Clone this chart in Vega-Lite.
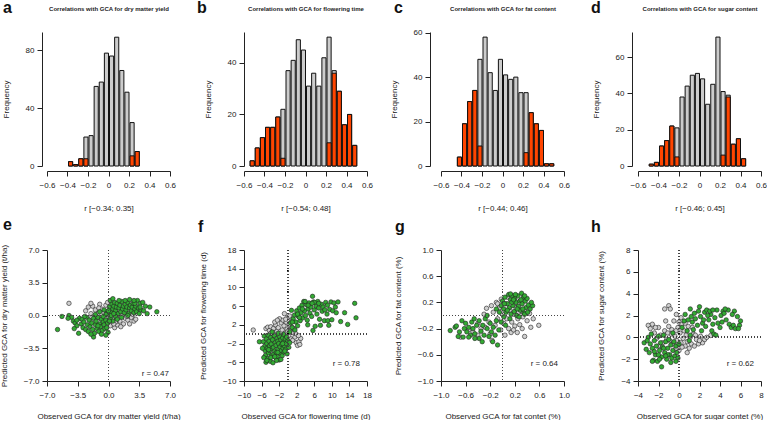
{
  "$schema": "https://vega.github.io/schema/vega-lite/v6.json",
  "padding": {"left": 0, "top": 0, "right": 0, "bottom": 0},
  "config": {
    "font": "Liberation Sans",
    "view": {"stroke": null},
    "axis": {"grid": false, "labelFontSize": 8, "titleFontSize": 8, "titleFontWeight": "normal", "labelColor": "#222", "titleColor": "#222", "domainColor": "#222", "tickColor": "#222", "tickSize": 5, "labelPadding": 5, "labelFont": "Liberation Sans", "titleFont": "Liberation Sans", "labelFlush": false, "labelOverlap": false, "titlePadding": 13},
    "axisY": {"titlePadding": 15, "labelPadding": 3},
    "title": {"anchor": "start", "frame": "group", "fontSize": 16, "fontWeight": "bold", "color": "#111", "font": "Liberation Sans"}
  },
  "datasets": {
    "ha": [
      {"b": -0.40, "e": -0.35, "n": 3, "s": 3},
      {"b": -0.35, "e": -0.30, "n": 1, "s": 1},
      {"b": -0.30, "e": -0.25, "n": 5, "s": 5},
      {"b": -0.25, "e": -0.20, "n": 20, "s": 5},
      {"b": -0.20, "e": -0.15, "n": 21, "s": 0},
      {"b": -0.15, "e": -0.10, "n": 55, "s": 0},
      {"b": -0.10, "e": -0.05, "n": 58, "s": 0},
      {"b": -0.05, "e": 0.00, "n": 78, "s": 0},
      {"b": 0.00, "e": 0.05, "n": 76, "s": 0},
      {"b": 0.05, "e": 0.10, "n": 89, "s": 0},
      {"b": 0.10, "e": 0.15, "n": 66, "s": 0},
      {"b": 0.15, "e": 0.20, "n": 51, "s": 0},
      {"b": 0.20, "e": 0.25, "n": 30, "s": 7},
      {"b": 0.25, "e": 0.30, "n": 10, "s": 10}
    ],
    "hb": [
      {"b": -0.55, "e": -0.50, "n": 2, "s": 2},
      {"b": -0.50, "e": -0.45, "n": 7, "s": 7},
      {"b": -0.45, "e": -0.40, "n": 11, "s": 11},
      {"b": -0.40, "e": -0.35, "n": 15, "s": 15},
      {"b": -0.35, "e": -0.30, "n": 15, "s": 15},
      {"b": -0.30, "e": -0.25, "n": 19, "s": 19},
      {"b": -0.25, "e": -0.20, "n": 22, "s": 3},
      {"b": -0.20, "e": -0.15, "n": 37, "s": 0},
      {"b": -0.15, "e": -0.10, "n": 41, "s": 0},
      {"b": -0.10, "e": -0.05, "n": 49, "s": 0},
      {"b": -0.05, "e": 0.00, "n": 45, "s": 0},
      {"b": 0.00, "e": 0.05, "n": 31, "s": 0},
      {"b": 0.05, "e": 0.10, "n": 36, "s": 0},
      {"b": 0.10, "e": 0.15, "n": 31, "s": 0},
      {"b": 0.15, "e": 0.20, "n": 42, "s": 0},
      {"b": 0.20, "e": 0.25, "n": 50, "s": 9},
      {"b": 0.25, "e": 0.30, "n": 37, "s": 36},
      {"b": 0.30, "e": 0.35, "n": 29, "s": 29},
      {"b": 0.35, "e": 0.40, "n": 16, "s": 16},
      {"b": 0.40, "e": 0.45, "n": 20, "s": 20},
      {"b": 0.45, "e": 0.50, "n": 8, "s": 8}
    ],
    "hc": [
      {"b": -0.45, "e": -0.40, "n": 4, "s": 4},
      {"b": -0.40, "e": -0.35, "n": 19, "s": 19},
      {"b": -0.35, "e": -0.30, "n": 29, "s": 29},
      {"b": -0.30, "e": -0.25, "n": 34, "s": 34},
      {"b": -0.25, "e": -0.20, "n": 48, "s": 9},
      {"b": -0.20, "e": -0.15, "n": 58, "s": 0},
      {"b": -0.15, "e": -0.10, "n": 42, "s": 0},
      {"b": -0.10, "e": -0.05, "n": 34, "s": 0},
      {"b": -0.05, "e": 0.00, "n": 48, "s": 0},
      {"b": 0.00, "e": 0.05, "n": 41, "s": 0},
      {"b": 0.05, "e": 0.10, "n": 39, "s": 0},
      {"b": 0.10, "e": 0.15, "n": 40, "s": 0},
      {"b": 0.15, "e": 0.20, "n": 33, "s": 0},
      {"b": 0.20, "e": 0.25, "n": 33, "s": 6},
      {"b": 0.25, "e": 0.30, "n": 24, "s": 24},
      {"b": 0.30, "e": 0.35, "n": 19, "s": 19},
      {"b": 0.35, "e": 0.40, "n": 16, "s": 16},
      {"b": 0.40, "e": 0.45, "n": 1, "s": 1},
      {"b": 0.45, "e": 0.50, "n": 1, "s": 1}
    ],
    "hd": [
      {"b": -0.50, "e": -0.45, "n": 1, "s": 1},
      {"b": -0.45, "e": -0.40, "n": 2, "s": 2},
      {"b": -0.40, "e": -0.35, "n": 11, "s": 11},
      {"b": -0.35, "e": -0.30, "n": 14, "s": 14},
      {"b": -0.30, "e": -0.25, "n": 22, "s": 22},
      {"b": -0.25, "e": -0.20, "n": 21, "s": 5},
      {"b": -0.20, "e": -0.15, "n": 38, "s": 0},
      {"b": -0.15, "e": -0.10, "n": 44, "s": 0},
      {"b": -0.10, "e": -0.05, "n": 50, "s": 0},
      {"b": -0.05, "e": 0.00, "n": 51, "s": 0},
      {"b": 0.00, "e": 0.05, "n": 48, "s": 0},
      {"b": 0.05, "e": 0.10, "n": 34, "s": 0},
      {"b": 0.10, "e": 0.15, "n": 45, "s": 0},
      {"b": 0.15, "e": 0.20, "n": 71, "s": 0},
      {"b": 0.20, "e": 0.25, "n": 41, "s": 6},
      {"b": 0.25, "e": 0.30, "n": 39, "s": 38},
      {"b": 0.30, "e": 0.35, "n": 12, "s": 12},
      {"b": 0.35, "e": 0.40, "n": 15, "s": 15},
      {"b": 0.40, "e": 0.45, "n": 4, "s": 4}
    ],
    "se": [
      {"x": -4.5, "y": 1.3, "g": "n"}, {"x": -2.6, "y": 0.5, "g": "n"}, {"x": -2.3, "y": 0.9, "g": "n"}, {"x": -2.0, "y": 0.2, "g": "n"}, {"x": -1.9, "y": -0.2, "g": "n"}, {"x": -1.8, "y": 1.0, "g": "n"}, {"x": -1.5, "y": 0.6, "g": "n"}, {"x": -1.2, "y": 0.2, "g": "n"}, {"x": -1.0, "y": 1.2, "g": "n"}, {"x": -0.9, "y": -0.3, "g": "n"}, {"x": -0.8, "y": 0.7, "g": "n"}, {"x": -0.5, "y": 0.3, "g": "n"}, {"x": -0.3, "y": 1.1, "g": "n"}, {"x": -0.1, "y": 1.4, "g": "n"}, {"x": 0.0, "y": -0.2, "g": "n"}, {"x": 0.1, "y": 0.1, "g": "n"}, {"x": 0.3, "y": -0.8, "g": "n"}, {"x": 0.5, "y": -0.3, "g": "n"}, {"x": 0.6, "y": 0.3, "g": "n"}, {"x": 0.7, "y": -1.3, "g": "n"}, {"x": 0.9, "y": -0.4, "g": "n"}, {"x": 1.0, "y": -1.0, "g": "n"}, {"x": 1.2, "y": 0.5, "g": "n"}, {"x": 1.3, "y": -0.6, "g": "n"}, {"x": 1.5, "y": 0.0, "g": "n"}, {"x": 1.7, "y": -0.9, "g": "n"}, {"x": 1.9, "y": -0.3, "g": "n"}, {"x": 2.0, "y": 0.3, "g": "n"}, {"x": 2.2, "y": -0.5, "g": "n"}, {"x": 2.6, "y": -0.2, "g": "n"}, {"x": 2.9, "y": -0.6, "g": "n"}, {"x": 3.1, "y": -0.4, "g": "n"}, {"x": 2.6, "y": 0.6, "g": "n"}, {"x": 0.4, "y": 0.6, "g": "n"}, {"x": -0.6, "y": -0.6, "g": "n"}, {"x": 1.1, "y": -0.2, "g": "n"}, {"x": 0.2, "y": -1.1, "g": "n"}, {"x": -1.4, "y": -0.1, "g": "n"}, {"x": 2.4, "y": -0.9, "g": "n"}, {"x": 1.6, "y": 0.4, "g": "n"},
      {"x": -0.2, "y": 0.4, "g": "n"}, {"x": 0.3, "y": 0.9, "g": "n"}, {"x": 0.8, "y": -0.7, "g": "n"}, {"x": 1.4, "y": -1.2, "g": "n"}, {"x": 2.1, "y": -0.1, "g": "n"}, {"x": 1.8, "y": 0.8, "g": "n"}, {"x": -1.1, "y": 0.8, "g": "n"}, {"x": -0.4, "y": -0.3, "g": "n"}, {"x": 0.6, "y": -0.9, "g": "n"}, {"x": 2.8, "y": 0.1, "g": "n"}, {"x": -2.0, "y": 1.3, "g": "n"}, {"x": 1.0, "y": 0.1, "g": "n"},
      {"x": -5.8, "y": -1.5, "g": "s"}, {"x": -5.3, "y": -0.1, "g": "s"}, {"x": -4.5, "y": 0.0, "g": "s"}, {"x": -4.2, "y": -0.2, "g": "s"}, {"x": -4.0, "y": -0.6, "g": "s"}, {"x": -3.8, "y": -0.8, "g": "s"}, {"x": -3.6, "y": -1.1, "g": "s"}, {"x": -3.4, "y": -1.9, "g": "s"}, {"x": -3.3, "y": -0.3, "g": "s"}, {"x": -3.1, "y": -0.9, "g": "s"}, {"x": -3.0, "y": -0.4, "g": "s"}, {"x": -2.9, "y": -1.3, "g": "s"}, {"x": -2.8, "y": -0.7, "g": "s"}, {"x": -2.6, "y": -1.5, "g": "s"}, {"x": -2.5, "y": -0.2, "g": "s"}, {"x": -2.4, "y": -1.0, "g": "s"}, {"x": -2.3, "y": -1.7, "g": "s"}, {"x": -2.2, "y": -0.5, "g": "s"}, {"x": -2.1, "y": -1.2, "g": "s"}, {"x": -1.7, "y": -2.3, "g": "s"}, {"x": -1.9, "y": -0.8, "g": "s"}, {"x": -1.8, "y": -1.5, "g": "s"}, {"x": -1.7, "y": -0.3, "g": "s"}, {"x": -1.6, "y": -1.9, "g": "s"}, {"x": -1.5, "y": -1.0, "g": "s"}, {"x": -1.4, "y": -0.6, "g": "s"}, {"x": -1.3, "y": -1.4, "g": "s"}, {"x": -1.2, "y": -0.2, "g": "s"}, {"x": -1.1, "y": -1.7, "g": "s"}, {"x": -1.0, "y": -0.9, "g": "s"}, {"x": -0.9, "y": -1.2, "g": "s"}, {"x": -0.8, "y": -0.4, "g": "s"}, {"x": -0.7, "y": -1.6, "g": "s"}, {"x": -0.6, "y": -0.7, "g": "s"}, {"x": -0.5, "y": -1.0, "g": "s"}, {"x": -0.4, "y": -1.4, "g": "s"}, {"x": -0.3, "y": -0.5, "g": "s"}, {"x": -0.2, "y": -1.3, "g": "s"}, {"x": -0.1, "y": -0.8, "g": "s"}, {"x": -0.05, "y": -1.8, "g": "s"},
      {"x": -1.0, "y": 0.4, "g": "s"}, {"x": -0.5, "y": 0.6, "g": "s"}, {"x": -0.2, "y": 0.2, "g": "s"}, {"x": 0.1, "y": 0.9, "g": "s"}, {"x": 0.2, "y": 1.6, "g": "s"}, {"x": 0.3, "y": 0.3, "g": "s"}, {"x": 0.4, "y": 1.2, "g": "s"}, {"x": 0.5, "y": 0.7, "g": "s"}, {"x": 0.6, "y": 1.0, "g": "s"}, {"x": 0.7, "y": 1.4, "g": "s"}, {"x": 0.8, "y": 0.5, "g": "s"}, {"x": 0.9, "y": 0.9, "g": "s"}, {"x": 1.0, "y": 1.3, "g": "s"}, {"x": 1.1, "y": 0.2, "g": "s"}, {"x": 1.2, "y": 0.8, "g": "s"}, {"x": 1.3, "y": 1.1, "g": "s"}, {"x": 1.4, "y": 0.4, "g": "s"}, {"x": 1.5, "y": 1.5, "g": "s"}, {"x": 1.6, "y": 0.7, "g": "s"}, {"x": 1.7, "y": 1.0, "g": "s"}, {"x": 1.8, "y": 0.3, "g": "s"}, {"x": 1.9, "y": 1.2, "g": "s"}, {"x": 2.0, "y": 0.6, "g": "s"}, {"x": 2.1, "y": 0.9, "g": "s"}, {"x": 2.2, "y": 1.4, "g": "s"}, {"x": 2.3, "y": 0.2, "g": "s"}, {"x": 2.4, "y": 0.8, "g": "s"}, {"x": 2.5, "y": 1.1, "g": "s"}, {"x": 2.6, "y": 0.5, "g": "s"}, {"x": 2.7, "y": 0.9, "g": "s"}, {"x": 2.8, "y": 1.3, "g": "s"}, {"x": 2.9, "y": 0.3, "g": "s"}, {"x": 3.0, "y": 0.7, "g": "s"}, {"x": 3.1, "y": 1.0, "g": "s"}, {"x": 3.2, "y": 0.4, "g": "s"}, {"x": 3.3, "y": 1.6, "g": "s"}, {"x": 3.4, "y": 0.8, "g": "s"}, {"x": 3.5, "y": 0.2, "g": "s"}, {"x": 3.6, "y": 1.3, "g": "s"}, {"x": 3.7, "y": 0.6, "g": "s"}, {"x": 4.0, "y": 0.5, "g": "s"}, {"x": 4.7, "y": 0.9, "g": "s"}, {"x": 5.5, "y": 0.4, "g": "s"}, {"x": 0.2, "y": -0.3, "g": "s"}, {"x": 0.5, "y": -0.6, "g": "s"}, {"x": 0.8, "y": -0.1, "g": "s"}, {"x": 1.0, "y": -0.4, "g": "s"}, {"x": -0.3, "y": 0.1, "g": "s"}, {"x": 0.0, "y": 0.5, "g": "s"}, {"x": -0.6, "y": -0.1, "g": "s"}, {"x": 0.3, "y": 0.0, "g": "s"}, {"x": 1.5, "y": -0.2, "g": "s"}, {"x": 2.2, "y": 0.0, "g": "s"}, {"x": -0.3, "y": -2.1, "g": "s"},
      {"x": 0.5, "y": 1.8, "g": "s"}, {"x": 1.2, "y": 1.6, "g": "s"}, {"x": 1.9, "y": 1.6, "g": "s"}, {"x": 2.4, "y": 1.7, "g": "s"}, {"x": 3.0, "y": 1.3, "g": "s"}, {"x": 3.6, "y": 0.9, "g": "s"}, {"x": 4.2, "y": 1.0, "g": "s"}, {"x": 4.4, "y": 0.2, "g": "s"}, {"x": 3.9, "y": 1.4, "g": "s"}, {"x": 2.9, "y": 1.6, "g": "s"}, {"x": -2.7, "y": -0.1, "g": "s"}, {"x": -3.6, "y": -0.5, "g": "s"}, {"x": -2.0, "y": -2.0, "g": "s"}, {"x": -1.2, "y": -1.1, "g": "s"}, {"x": -0.8, "y": -2.0, "g": "s"}, {"x": -3.9, "y": -1.4, "g": "s"}, {"x": -4.6, "y": -0.3, "g": "s"}, {"x": -1.5, "y": 0.1, "g": "s"}, {"x": 0.1, "y": -0.6, "g": "s"}, {"x": 0.6, "y": 0.2, "g": "s"}
    ],
    "sf": [
      {"x": -7.9, "y": 0.9, "g": "n"}, {"x": -5.0, "y": 1.2, "g": "n"}, {"x": -4.6, "y": 1.5, "g": "n"}, {"x": -4.2, "y": 0.8, "g": "n"}, {"x": -3.9, "y": 1.6, "g": "n"}, {"x": -3.6, "y": 0.4, "g": "n"}, {"x": -3.3, "y": 1.2, "g": "n"}, {"x": -3.0, "y": -0.5, "g": "n"}, {"x": -2.8, "y": 2.0, "g": "n"}, {"x": -2.5, "y": 0.6, "g": "n"}, {"x": -2.2, "y": 1.4, "g": "n"}, {"x": -1.9, "y": 3.3, "g": "n"}, {"x": -1.7, "y": -0.8, "g": "n"}, {"x": -1.5, "y": 2.4, "g": "n"}, {"x": -1.3, "y": 0.9, "g": "n"}, {"x": -1.1, "y": 3.0, "g": "n"}, {"x": -0.9, "y": 1.8, "g": "n"}, {"x": -0.8, "y": 4.4, "g": "n"}, {"x": -0.6, "y": 0.2, "g": "n"}, {"x": -0.4, "y": 2.6, "g": "n"}, {"x": -0.2, "y": 1.1, "g": "n"}, {"x": 0.0, "y": 3.6, "g": "n"}, {"x": 0.2, "y": -0.4, "g": "n"}, {"x": 0.3, "y": 2.0, "g": "n"}, {"x": 0.5, "y": 0.8, "g": "n"}, {"x": 0.7, "y": -1.0, "g": "n"}, {"x": 0.9, "y": 1.5, "g": "n"}, {"x": 1.1, "y": -1.3, "g": "n"}, {"x": 1.3, "y": 0.3, "g": "n"}, {"x": 1.6, "y": -0.6, "g": "n"}, {"x": 1.9, "y": -1.8, "g": "n"}, {"x": 2.2, "y": -2.4, "g": "n"}, {"x": 2.5, "y": -1.6, "g": "n"}, {"x": 2.7, "y": -2.2, "g": "n"}, {"x": -4.8, "y": -0.3, "g": "n"}, {"x": -2.0, "y": -1.5, "g": "n"}, {"x": -3.8, "y": -1.2, "g": "n"}, {"x": 0.4, "y": 3.9, "g": "n"}, {"x": -1.0, "y": -0.2, "g": "n"}, {"x": 1.8, "y": 0.1, "g": "n"}, {"x": -0.3, "y": -1.8, "g": "n"}, {"x": 2.9, "y": -0.9, "g": "n"},
      {"x": -3.0, "y": 2.6, "g": "n"}, {"x": -2.4, "y": 3.0, "g": "n"}, {"x": -0.5, "y": 3.2, "g": "n"}, {"x": 0.8, "y": 2.8, "g": "n"}, {"x": 1.4, "y": 1.2, "g": "n"}, {"x": -4.0, "y": 0.1, "g": "n"}, {"x": 0.0, "y": 0.6, "g": "n"}, {"x": 2.4, "y": -0.3, "g": "n"},
      {"x": -6.5, "y": -1.6, "g": "s"}, {"x": -5.6, "y": -1.6, "g": "s"}, {"x": -5.4, "y": -0.4, "g": "s"}, {"x": -5.3, "y": -2.6, "g": "s"}, {"x": -5.2, "y": -3.5, "g": "s"}, {"x": -5.1, "y": -4.5, "g": "s"}, {"x": -5.0, "y": -6.0, "g": "s"}, {"x": -4.9, "y": -1.0, "g": "s"}, {"x": -4.8, "y": -2.0, "g": "s"}, {"x": -4.7, "y": -3.0, "g": "s"}, {"x": -4.6, "y": -5.2, "g": "s"}, {"x": -4.5, "y": -0.2, "g": "s"}, {"x": -4.4, "y": -4.0, "g": "s"}, {"x": -4.3, "y": -1.5, "g": "s"}, {"x": -4.2, "y": -2.5, "g": "s"}, {"x": -4.1, "y": -3.5, "g": "s"}, {"x": -4.0, "y": -5.8, "g": "s"}, {"x": -3.9, "y": -0.7, "g": "s"}, {"x": -3.8, "y": -2.1, "g": "s"}, {"x": -3.7, "y": -4.6, "g": "s"}, {"x": -3.6, "y": -3.0, "g": "s"}, {"x": -3.5, "y": -1.2, "g": "s"}, {"x": -3.4, "y": -6.1, "g": "s"}, {"x": -3.3, "y": -2.8, "g": "s"}, {"x": -3.2, "y": -4.2, "g": "s"}, {"x": -3.1, "y": -0.3, "g": "s"}, {"x": -3.0, "y": -3.6, "g": "s"}, {"x": -2.9, "y": -1.8, "g": "s"}, {"x": -2.8, "y": -5.0, "g": "s"}, {"x": -2.7, "y": -2.4, "g": "s"}, {"x": -2.6, "y": -3.9, "g": "s"}, {"x": -2.5, "y": -0.9, "g": "s"}, {"x": -2.4, "y": -4.8, "g": "s"}, {"x": -2.3, "y": -1.5, "g": "s"}, {"x": -2.2, "y": -3.2, "g": "s"}, {"x": -2.1, "y": -2.0, "g": "s"}, {"x": -2.0, "y": -5.5, "g": "s"}, {"x": -1.9, "y": -0.5, "g": "s"}, {"x": -1.8, "y": -2.7, "g": "s"}, {"x": -1.7, "y": -4.1, "g": "s"}, {"x": -1.6, "y": -1.2, "g": "s"}, {"x": -1.5, "y": -3.5, "g": "s"}, {"x": -1.4, "y": -2.2, "g": "s"}, {"x": -1.3, "y": -4.6, "g": "s"}, {"x": -1.2, "y": -0.8, "g": "s"}, {"x": -1.1, "y": -3.0, "g": "s"}, {"x": -1.0, "y": -1.7, "g": "s"}, {"x": -0.9, "y": -3.8, "g": "s"}, {"x": -0.8, "y": -2.5, "g": "s"}, {"x": -0.6, "y": -1.0, "g": "s"}, {"x": -0.5, "y": -3.2, "g": "s"}, {"x": -0.4, "y": -2.0, "g": "s"}, {"x": -0.2, "y": -4.2, "g": "s"}, {"x": 0.0, "y": -1.4, "g": "s"}, {"x": 0.2, "y": -2.8, "g": "s"}, {"x": -3.6, "y": 0.5, "g": "s"}, {"x": -2.2, "y": 0.2, "g": "s"}, {"x": -1.0, "y": 0.0, "g": "s"}, {"x": -4.4, "y": -3.3, "g": "s"}, {"x": -2.6, "y": -5.6, "g": "s"},
      {"x": -5.8, "y": -3.0, "g": "s"}, {"x": -5.5, "y": -5.0, "g": "s"}, {"x": -4.8, "y": -5.6, "g": "s"}, {"x": -3.9, "y": -5.0, "g": "s"}, {"x": -3.0, "y": -4.8, "g": "s"}, {"x": -2.3, "y": -3.9, "g": "s"}, {"x": -1.6, "y": -5.4, "g": "s"}, {"x": -1.2, "y": -2.0, "g": "s"}, {"x": -0.7, "y": -3.6, "g": "s"}, {"x": -0.3, "y": -0.6, "g": "s"}, {"x": 0.4, "y": -1.8, "g": "s"},
      {"x": 0.4, "y": 0.5, "g": "s"}, {"x": 0.6, "y": 2.4, "g": "s"}, {"x": 0.8, "y": 5.1, "g": "s"}, {"x": 1.0, "y": 1.4, "g": "s"}, {"x": 1.2, "y": 3.3, "g": "s"}, {"x": 1.5, "y": 4.1, "g": "s"}, {"x": 1.6, "y": 0.9, "g": "s"}, {"x": 1.8, "y": 2.6, "g": "s"}, {"x": 2.0, "y": 5.0, "g": "s"}, {"x": 2.2, "y": 1.8, "g": "s"}, {"x": 2.4, "y": 3.8, "g": "s"}, {"x": 2.6, "y": 5.6, "g": "s"}, {"x": 2.8, "y": 2.9, "g": "s"}, {"x": 3.0, "y": 4.6, "g": "s"}, {"x": 3.2, "y": 6.2, "g": "s"}, {"x": 3.4, "y": 3.5, "g": "s"}, {"x": 3.6, "y": 7.0, "g": "s"}, {"x": 3.8, "y": 5.0, "g": "s"}, {"x": 4.0, "y": 4.0, "g": "s"}, {"x": 4.2, "y": 6.3, "g": "s"}, {"x": 4.4, "y": 3.0, "g": "s"}, {"x": 4.6, "y": 5.4, "g": "s"}, {"x": 4.8, "y": 6.7, "g": "s"}, {"x": 5.0, "y": 4.5, "g": "s"}, {"x": 5.2, "y": 5.8, "g": "s"}, {"x": 5.4, "y": 3.8, "g": "s"}, {"x": 5.6, "y": 8.1, "g": "s"}, {"x": 5.7, "y": 0.8, "g": "s"}, {"x": 5.8, "y": 6.9, "g": "s"}, {"x": 6.0, "y": 5.2, "g": "s"}, {"x": 6.2, "y": 1.7, "g": "s"}, {"x": 6.4, "y": 6.0, "g": "s"}, {"x": 6.6, "y": 4.3, "g": "s"}, {"x": 6.8, "y": 7.0, "g": "s"}, {"x": 7.0, "y": 5.6, "g": "s"}, {"x": 7.2, "y": 3.2, "g": "s"}, {"x": 7.4, "y": 1.9, "g": "s"}, {"x": 7.6, "y": 6.4, "g": "s"}, {"x": 7.8, "y": 4.9, "g": "s"}, {"x": 8.0, "y": 5.8, "g": "s"}, {"x": 8.3, "y": 2.9, "g": "s"}, {"x": 8.6, "y": 6.8, "g": "s"}, {"x": 8.9, "y": 4.3, "g": "s"}, {"x": 9.1, "y": 2.9, "g": "s"}, {"x": 9.3, "y": 1.9, "g": "s"}, {"x": 9.5, "y": 5.3, "g": "s"}, {"x": 9.8, "y": 6.9, "g": "s"}, {"x": 10.2, "y": 5.0, "g": "s"}, {"x": 10.5, "y": 6.7, "g": "s"}, {"x": 11.0, "y": 4.6, "g": "s"}, {"x": 11.4, "y": 6.9, "g": "s"}, {"x": 12.0, "y": 2.7, "g": "s"}, {"x": 12.9, "y": 4.6, "g": "s"}, {"x": 13.6, "y": 2.1, "g": "s"}, {"x": 15.2, "y": 6.6, "g": "s"}, {"x": 15.5, "y": 3.5, "g": "s"}, {"x": 10.0, "y": 3.1, "g": "s"}, {"x": 6.0, "y": 6.8, "g": "s"}, {"x": 4.5, "y": 2.0, "g": "s"},
      {"x": 1.0, "y": 2.6, "g": "s"}, {"x": 2.6, "y": 3.6, "g": "s"}, {"x": 3.3, "y": 5.4, "g": "s"}, {"x": 4.6, "y": 6.2, "g": "s"}, {"x": 5.5, "y": 6.6, "g": "s"}, {"x": 7.0, "y": 6.6, "g": "s"}, {"x": 8.4, "y": 5.2, "g": "s"}, {"x": 9.0, "y": 6.2, "g": "s"}, {"x": 10.8, "y": 5.8, "g": "s"}, {"x": 3.9, "y": 7.0, "g": "s"}, {"x": 2.2, "y": 4.3, "g": "s"}
    ],
    "sg": [
      {"x": -0.68, "y": -0.33, "g": "n"}, {"x": -0.48, "y": -0.25, "g": "n"}, {"x": -0.40, "y": -0.12, "g": "n"}, {"x": -0.35, "y": -0.20, "g": "n"}, {"x": -0.30, "y": 0.02, "g": "n"}, {"x": -0.26, "y": 0.11, "g": "n"}, {"x": -0.22, "y": -0.10, "g": "n"}, {"x": -0.20, "y": -0.28, "g": "n"}, {"x": -0.17, "y": -0.38, "g": "n"}, {"x": -0.15, "y": 0.05, "g": "n"}, {"x": -0.12, "y": -0.15, "g": "n"}, {"x": -0.10, "y": 0.20, "g": "n"}, {"x": -0.08, "y": -0.05, "g": "n"}, {"x": -0.05, "y": 0.12, "g": "n"}, {"x": -0.03, "y": -0.22, "g": "n"}, {"x": 0.00, "y": 0.02, "g": "n"}, {"x": 0.02, "y": -0.12, "g": "n"}, {"x": 0.05, "y": 0.18, "g": "n"}, {"x": 0.07, "y": -0.05, "g": "n"}, {"x": 0.10, "y": -0.20, "g": "n"}, {"x": 0.12, "y": 0.08, "g": "n"}, {"x": 0.15, "y": -0.10, "g": "n"}, {"x": 0.18, "y": 0.02, "g": "n"}, {"x": 0.20, "y": -0.16, "g": "n"}, {"x": 0.22, "y": 0.12, "g": "n"}, {"x": 0.25, "y": -0.05, "g": "n"}, {"x": 0.28, "y": -0.14, "g": "n"}, {"x": 0.30, "y": 0.06, "g": "n"}, {"x": 0.33, "y": -0.02, "g": "n"}, {"x": 0.36, "y": -0.32, "g": "n"}, {"x": 0.40, "y": -0.08, "g": "n"}, {"x": 0.46, "y": -0.18, "g": "n"}, {"x": 0.59, "y": -0.15, "g": "n"}, {"x": 0.44, "y": 0.03, "g": "n"}, {"x": -0.02, "y": 0.25, "g": "n"}, {"x": 0.08, "y": 0.28, "g": "n"}, {"x": -0.18, "y": 0.15, "g": "n"}, {"x": 0.14, "y": -0.26, "g": "n"}, {"x": -0.40, "y": -0.30, "g": "n"}, {"x": 0.24, "y": -0.26, "g": "n"},
      {"x": -0.55, "y": -0.22, "g": "n"}, {"x": -0.28, "y": -0.18, "g": "n"}, {"x": 0.04, "y": -0.30, "g": "n"}, {"x": 0.18, "y": -0.22, "g": "n"}, {"x": 0.32, "y": -0.20, "g": "n"}, {"x": 0.50, "y": -0.05, "g": "n"}, {"x": -0.08, "y": 0.18, "g": "n"}, {"x": 0.26, "y": 0.05, "g": "n"},
      {"x": -0.85, "y": -0.23, "g": "s"}, {"x": -0.77, "y": -0.18, "g": "s"}, {"x": -0.75, "y": -0.16, "g": "s"}, {"x": -0.72, "y": -0.32, "g": "s"}, {"x": -0.66, "y": -0.08, "g": "s"}, {"x": -0.64, "y": -0.33, "g": "s"}, {"x": -0.62, "y": -0.20, "g": "s"}, {"x": -0.60, "y": -0.12, "g": "s"}, {"x": -0.58, "y": -0.25, "g": "s"}, {"x": -0.55, "y": -0.18, "g": "s"}, {"x": -0.52, "y": -0.30, "g": "s"}, {"x": -0.50, "y": -0.10, "g": "s"}, {"x": -0.48, "y": -0.20, "g": "s"}, {"x": -0.45, "y": -0.28, "g": "s"}, {"x": -0.42, "y": -0.15, "g": "s"}, {"x": -0.38, "y": -0.35, "g": "s"}, {"x": -0.38, "y": -0.08, "g": "s"}, {"x": -0.35, "y": -0.24, "g": "s"}, {"x": -0.32, "y": -0.15, "g": "s"}, {"x": -0.30, "y": -0.30, "g": "s"}, {"x": -0.28, "y": -0.05, "g": "s"}, {"x": -0.25, "y": -0.20, "g": "s"}, {"x": -0.22, "y": -0.32, "g": "s"}, {"x": -0.20, "y": -0.12, "g": "s"}, {"x": -0.18, "y": -0.25, "g": "s"}, {"x": -0.15, "y": -0.18, "g": "s"}, {"x": -0.12, "y": -0.30, "g": "s"}, {"x": -0.10, "y": -0.08, "g": "s"}, {"x": -0.08, "y": -0.45, "g": "s"}, {"x": -0.06, "y": -0.22, "g": "s"}, {"x": -0.05, "y": 0.05, "g": "s"}, {"x": -0.02, "y": 0.15, "g": "s"}, {"x": 0.00, "y": 0.22, "g": "s"}, {"x": 0.02, "y": 0.10, "g": "s"}, {"x": 0.04, "y": 0.28, "g": "s"}, {"x": 0.06, "y": 0.05, "g": "s"}, {"x": 0.08, "y": 0.18, "g": "s"}, {"x": 0.10, "y": 0.32, "g": "s"}, {"x": 0.11, "y": 0.12, "g": "s"}, {"x": 0.13, "y": 0.24, "g": "s"}, {"x": 0.14, "y": 0.02, "g": "s"}, {"x": 0.16, "y": 0.30, "g": "s"}, {"x": 0.17, "y": 0.15, "g": "s"}, {"x": 0.19, "y": 0.06, "g": "s"}, {"x": 0.20, "y": 0.26, "g": "s"}, {"x": 0.22, "y": 0.20, "g": "s"}, {"x": 0.23, "y": 0.00, "g": "s"}, {"x": 0.25, "y": 0.30, "g": "s"}, {"x": 0.26, "y": 0.14, "g": "s"}, {"x": 0.28, "y": 0.22, "g": "s"}, {"x": 0.29, "y": 0.08, "g": "s"}, {"x": 0.31, "y": 0.34, "g": "s"}, {"x": 0.32, "y": 0.18, "g": "s"}, {"x": 0.34, "y": 0.28, "g": "s"}, {"x": 0.35, "y": 0.04, "g": "s"}, {"x": 0.37, "y": 0.22, "g": "s"}, {"x": 0.38, "y": 0.12, "g": "s"}, {"x": 0.40, "y": 0.26, "g": "s"}, {"x": 0.42, "y": 0.16, "g": "s"}, {"x": 0.45, "y": 0.10, "g": "s"}, {"x": 0.49, "y": 0.15, "g": "s"}, {"x": 0.12, "y": -0.05, "g": "s"}, {"x": -0.10, "y": 0.10, "g": "s"}, {"x": 0.05, "y": -0.15, "g": "s"}, {"x": 0.27, "y": -0.02, "g": "s"}, {"x": 0.36, "y": 0.02, "g": "s"}, {"x": 0.02, "y": -0.02, "g": "s"}, {"x": -0.25, "y": 0.00, "g": "s"}, {"x": -0.45, "y": -0.35, "g": "s"}, {"x": -0.55, "y": -0.33, "g": "s"}, {"x": 0.15, "y": 0.20, "g": "s"}, {"x": 0.21, "y": 0.32, "g": "s"}, {"x": 0.33, "y": 0.10, "g": "s"},
      {"x": -0.70, "y": -0.25, "g": "s"}, {"x": -0.46, "y": -0.05, "g": "s"}, {"x": -0.33, "y": -0.40, "g": "s"}, {"x": -0.16, "y": -0.40, "g": "s"}, {"x": -0.02, "y": -0.10, "g": "s"}, {"x": 0.08, "y": 0.08, "g": "s"}, {"x": 0.18, "y": 0.24, "g": "s"}, {"x": 0.24, "y": 0.10, "g": "s"}, {"x": 0.30, "y": 0.24, "g": "s"}, {"x": 0.36, "y": 0.30, "g": "s"}, {"x": 0.41, "y": 0.05, "g": "s"}, {"x": 0.47, "y": 0.20, "g": "s"}, {"x": 0.03, "y": 0.18, "g": "s"}, {"x": 0.13, "y": 0.33, "g": "s"}
    ],
    "sh": [
      {"x": -3.0, "y": 1.1, "g": "n"}, {"x": -2.6, "y": 1.2, "g": "n"}, {"x": -2.8, "y": 0.8, "g": "n"}, {"x": -2.4, "y": 0.4, "g": "n"}, {"x": -2.2, "y": -0.1, "g": "n"}, {"x": -2.0, "y": 0.9, "g": "n"}, {"x": -1.8, "y": 0.2, "g": "n"}, {"x": -1.6, "y": -0.5, "g": "n"}, {"x": -1.4, "y": 2.6, "g": "n"}, {"x": -1.4, "y": 0.6, "g": "n"}, {"x": -1.2, "y": -0.2, "g": "n"}, {"x": -1.0, "y": 2.9, "g": "n"}, {"x": -1.0, "y": 1.0, "g": "n"}, {"x": -0.85, "y": 2.6, "g": "n"}, {"x": -0.8, "y": 0.3, "g": "n"}, {"x": -0.6, "y": -0.6, "g": "n"}, {"x": -0.5, "y": 1.5, "g": "n"}, {"x": -0.4, "y": 0.1, "g": "n"}, {"x": -0.26, "y": 2.1, "g": "n"}, {"x": -0.2, "y": -0.3, "g": "n"}, {"x": -0.1, "y": 0.9, "g": "n"}, {"x": 0.0, "y": 1.4, "g": "n"}, {"x": 0.0, "y": -1.2, "g": "n"}, {"x": 0.1, "y": 0.4, "g": "n"}, {"x": 0.2, "y": -0.5, "g": "n"}, {"x": 0.3, "y": 1.2, "g": "n"}, {"x": 0.4, "y": -0.1, "g": "n"}, {"x": 0.5, "y": 0.6, "g": "n"}, {"x": 0.6, "y": -0.8, "g": "n"}, {"x": 0.7, "y": 0.2, "g": "n"}, {"x": 0.8, "y": -0.4, "g": "n"}, {"x": 0.9, "y": 1.0, "g": "n"}, {"x": 1.0, "y": -1.0, "g": "n"}, {"x": 1.1, "y": 0.0, "g": "n"}, {"x": 1.2, "y": -0.6, "g": "n"}, {"x": 1.4, "y": 0.3, "g": "n"}, {"x": 1.5, "y": -0.8, "g": "n"}, {"x": 1.7, "y": -0.2, "g": "n"}, {"x": 1.9, "y": -0.6, "g": "n"}, {"x": 2.1, "y": 0.1, "g": "n"}, {"x": 2.3, "y": -0.5, "g": "n"}, {"x": 2.5, "y": -0.2, "g": "n"}, {"x": 2.7, "y": 0.0, "g": "n"}, {"x": 3.1, "y": 0.17, "g": "n"}, {"x": -0.3, "y": -1.0, "g": "n"}, {"x": -1.3, "y": 1.5, "g": "n"}, {"x": 0.2, "y": 1.8, "g": "n"}, {"x": -0.7, "y": 0.7, "g": "n"}, {"x": 1.3, "y": 0.9, "g": "n"}, {"x": -2.0, "y": -0.8, "g": "n"}, {"x": 0.8, "y": -1.4, "g": "n"},
      {"x": -2.3, "y": 0.9, "g": "n"}, {"x": -1.1, "y": 0.4, "g": "n"}, {"x": -0.3, "y": 0.6, "g": "n"}, {"x": 0.6, "y": 1.3, "g": "n"}, {"x": 1.6, "y": 0.2, "g": "n"}, {"x": 2.0, "y": -0.3, "g": "n"}, {"x": 0.3, "y": -0.9, "g": "n"}, {"x": -0.9, "y": -0.3, "g": "n"},
      {"x": -3.4, "y": -0.5, "g": "s"}, {"x": -3.2, "y": -1.1, "g": "s"}, {"x": -3.0, "y": 0.0, "g": "s"}, {"x": -2.9, "y": -1.4, "g": "s"}, {"x": -2.8, "y": -0.6, "g": "s"}, {"x": -2.7, "y": 0.3, "g": "s"}, {"x": -2.6, "y": -1.0, "g": "s"}, {"x": -2.5, "y": -2.1, "g": "s"}, {"x": -2.4, "y": -0.3, "g": "s"}, {"x": -2.3, "y": -1.6, "g": "s"}, {"x": -2.2, "y": -0.8, "g": "s"}, {"x": -2.1, "y": -2.2, "g": "s"}, {"x": -2.0, "y": 0.1, "g": "s"}, {"x": -1.9, "y": -1.2, "g": "s"}, {"x": -1.8, "y": -0.5, "g": "s"}, {"x": -1.7, "y": -2.7, "g": "s"}, {"x": -1.7, "y": -1.8, "g": "s"}, {"x": -1.6, "y": -0.9, "g": "s"}, {"x": -1.5, "y": 0.2, "g": "s"}, {"x": -1.4, "y": -1.4, "g": "s"}, {"x": -1.3, "y": -0.4, "g": "s"}, {"x": -1.2, "y": -2.0, "g": "s"}, {"x": -1.1, "y": -1.0, "g": "s"}, {"x": -1.0, "y": -0.2, "g": "s"}, {"x": -0.9, "y": -1.6, "g": "s"}, {"x": -0.8, "y": -0.7, "g": "s"}, {"x": -0.7, "y": -1.9, "g": "s"}, {"x": -0.6, "y": -1.2, "g": "s"}, {"x": -0.5, "y": -0.4, "g": "s"}, {"x": -0.4, "y": -1.7, "g": "s"}, {"x": -0.3, "y": -0.8, "g": "s"}, {"x": -0.2, "y": -1.4, "g": "s"}, {"x": -0.1, "y": -1.9, "g": "s"}, {"x": 0.0, "y": -0.6, "g": "s"}, {"x": -1.9, "y": -2.0, "g": "s"}, {"x": -2.6, "y": -2.2, "g": "s"}, {"x": -0.6, "y": 0.4, "g": "s"}, {"x": -1.1, "y": -1.6, "g": "s"},
      {"x": -3.1, "y": -0.3, "g": "s"}, {"x": -2.4, "y": -1.3, "g": "s"}, {"x": -1.5, "y": -1.0, "g": "s"}, {"x": -0.8, "y": -2.3, "g": "s"}, {"x": -0.3, "y": -2.2, "g": "s"}, {"x": -1.3, "y": -1.7, "g": "s"}, {"x": -2.0, "y": -1.6, "g": "s"},
      {"x": 0.5, "y": 1.5, "g": "s"}, {"x": 0.8, "y": 0.6, "g": "s"}, {"x": 0.9, "y": 1.6, "g": "s"}, {"x": 1.1, "y": 2.6, "g": "s"}, {"x": 1.1, "y": 0.2, "g": "s"}, {"x": 1.3, "y": 1.4, "g": "s"}, {"x": 1.5, "y": 2.2, "g": "s"}, {"x": 1.6, "y": 1.7, "g": "s"}, {"x": 1.8, "y": 1.1, "g": "s"}, {"x": 2.0, "y": 2.8, "g": "s"}, {"x": 2.1, "y": 1.9, "g": "s"}, {"x": 2.3, "y": 1.3, "g": "s"}, {"x": 2.5, "y": 2.3, "g": "s"}, {"x": 2.6, "y": 1.0, "g": "s"}, {"x": 2.7, "y": 2.5, "g": "s"}, {"x": 2.9, "y": 1.6, "g": "s"}, {"x": 3.1, "y": 2.1, "g": "s"}, {"x": 3.2, "y": 0.6, "g": "s"}, {"x": 3.4, "y": 0.3, "g": "s"}, {"x": 3.5, "y": 1.8, "g": "s"}, {"x": 3.7, "y": 2.5, "g": "s"}, {"x": 3.8, "y": 1.3, "g": "s"}, {"x": 4.0, "y": 0.9, "g": "s"}, {"x": 4.1, "y": 2.0, "g": "s"}, {"x": 4.3, "y": 2.4, "g": "s"}, {"x": 4.6, "y": 1.6, "g": "s"}, {"x": 4.8, "y": 2.5, "g": "s"}, {"x": 4.9, "y": 1.2, "g": "s"}, {"x": 5.1, "y": 0.9, "g": "s"}, {"x": 5.3, "y": 1.1, "g": "s"}, {"x": 5.4, "y": 2.4, "g": "s"}, {"x": 5.5, "y": 0.8, "g": "s"}, {"x": 5.7, "y": 1.9, "g": "s"}, {"x": 5.9, "y": 1.1, "g": "s"}, {"x": 6.0, "y": 1.5, "g": "s"}, {"x": 1.4, "y": 0.7, "g": "s"}, {"x": 3.0, "y": 2.4, "g": "s"}, {"x": 2.2, "y": 0.6, "g": "s"}, {"x": 0.3, "y": 0.9, "g": "s"}, {"x": 1.0, "y": -0.3, "g": "s"}, {"x": 3.6, "y": 0.2, "g": "s"}, {"x": 4.4, "y": 2.2, "g": "s"},
      {"x": 0.6, "y": 2.1, "g": "s"}, {"x": 1.2, "y": 1.9, "g": "s"}, {"x": 1.9, "y": 2.4, "g": "s"}, {"x": 2.4, "y": 1.6, "g": "s"}, {"x": 3.3, "y": 2.5, "g": "s"}, {"x": 4.2, "y": 1.4, "g": "s"}, {"x": 4.5, "y": 2.6, "g": "s"}, {"x": 5.2, "y": 2.1, "g": "s"}, {"x": 5.8, "y": 0.8, "g": "s"}, {"x": 3.3, "y": 1.2, "g": "s"}, {"x": 2.8, "y": 2.0, "g": "s"}
    ]
  },
  "bounds": "flush",
  "columns": 4,
  "spacing": {"row": 84, "column": 74},
  "concat": [
    {
      "width": 123, "height": 134,
      "title": {"text": "a", "dx": -44, "dy": 15},
      "data": {"name": "ha"},
      "resolve": {"axis": {"x": "independent"}},
      "layer": [
        {"mark": {"type": "bar", "fill": "#cccccc", "stroke": "#111", "strokeWidth": 1},
         "encoding": {
           "x": {"field": "b", "bin": "binned", "type": "quantitative", "scale": {"domain": [-0.6, 0.6], "nice": false, "zero": false}, "axis": {"values": [-0.6, -0.4, -0.2, 0, 0.2, 0.4, 0.6], "format": ".1~f", "title": "r [−0.34; 0.35]", "offset": 5, "titlePadding": 15}},
           "x2": {"field": "e"},
           "y": {"field": "n", "type": "quantitative", "scale": {"domain": [0, 92.6], "nice": false}, "axis": {"values": [0, 20, 40, 60, 80], "title": "Frequency", "offset": 5}}
         }},
        {"transform": [{"filter": "datum.s > 0"}],
         "mark": {"type": "bar", "fill": "#ff4500", "stroke": "#111", "strokeWidth": 1},
         "encoding": {
           "x": {"field": "b", "bin": "binned", "type": "quantitative", "axis": {"orient": "top", "title": "Correlations with GCA for dry matter yield", "labels": false, "ticks": false, "domain": false, "titleFontSize": 6, "titleFontWeight": "bold", "titlePadding": 21}},
           "x2": {"field": "e"},
           "y": {"field": "s", "type": "quantitative", "title": "Frequency"}
         }}
      ]
    },
    {
      "width": 123, "height": 134,
      "title": {"text": "b", "dx": -47, "dy": 15},
      "data": {"name": "hb"},
      "resolve": {"axis": {"x": "independent"}},
      "layer": [
        {"mark": {"type": "bar", "fill": "#cccccc", "stroke": "#111", "strokeWidth": 1},
         "encoding": {
           "x": {"field": "b", "bin": "binned", "type": "quantitative", "scale": {"domain": [-0.6, 0.6], "nice": false, "zero": false}, "axis": {"values": [-0.6, -0.4, -0.2, 0, 0.2, 0.4, 0.6], "format": ".1~f", "title": "r [−0.54; 0.48]", "offset": 5, "titlePadding": 15}},
           "x2": {"field": "e"},
           "y": {"field": "n", "type": "quantitative", "scale": {"domain": [0, 52], "nice": false}, "axis": {"values": [0, 10, 20, 30, 40, 50], "title": "Frequency", "offset": 0}}
         }},
        {"transform": [{"filter": "datum.s > 0"}],
         "mark": {"type": "bar", "fill": "#ff4500", "stroke": "#111", "strokeWidth": 1},
         "encoding": {
           "x": {"field": "b", "bin": "binned", "type": "quantitative", "axis": {"orient": "top", "title": "Correlations with GCA for flowering time", "labels": false, "ticks": false, "domain": false, "titleFontSize": 6, "titleFontWeight": "bold", "titlePadding": 21}},
           "x2": {"field": "e"},
           "y": {"field": "s", "type": "quantitative", "title": "Frequency"}
         }}
      ]
    },
    {
      "width": 123, "height": 134,
      "title": {"text": "c", "dx": -47, "dy": 15},
      "data": {"name": "hc"},
      "resolve": {"axis": {"x": "independent"}},
      "layer": [
        {"mark": {"type": "bar", "fill": "#cccccc", "stroke": "#111", "strokeWidth": 1},
         "encoding": {
           "x": {"field": "b", "bin": "binned", "type": "quantitative", "scale": {"domain": [-0.6, 0.6], "nice": false, "zero": false}, "axis": {"values": [-0.6, -0.4, -0.2, 0, 0.2, 0.4, 0.6], "format": ".1~f", "title": "r [−0.44; 0.46]", "offset": 5, "titlePadding": 15}},
           "x2": {"field": "e"},
           "y": {"field": "n", "type": "quantitative", "scale": {"domain": [0, 60.3], "nice": false}, "axis": {"values": [0, 10, 20, 30, 40, 50, 60], "title": "Frequency", "offset": 11}}
         }},
        {"transform": [{"filter": "datum.s > 0"}],
         "mark": {"type": "bar", "fill": "#ff4500", "stroke": "#111", "strokeWidth": 1},
         "encoding": {
           "x": {"field": "b", "bin": "binned", "type": "quantitative", "axis": {"orient": "top", "title": "Correlations with GCA for fat content", "labels": false, "ticks": false, "domain": false, "titleFontSize": 6, "titleFontWeight": "bold", "titlePadding": 21}},
           "x2": {"field": "e"},
           "y": {"field": "s", "type": "quantitative", "title": "Frequency"}
         }}
      ]
    },
    {
      "width": 123, "height": 134,
      "title": {"text": "d", "dx": -47, "dy": 15},
      "data": {"name": "hd"},
      "resolve": {"axis": {"x": "independent"}},
      "layer": [
        {"mark": {"type": "bar", "fill": "#cccccc", "stroke": "#111", "strokeWidth": 1},
         "encoding": {
           "x": {"field": "b", "bin": "binned", "type": "quantitative", "scale": {"domain": [-0.6, 0.6], "nice": false, "zero": false}, "axis": {"values": [-0.6, -0.4, -0.2, 0, 0.2, 0.4, 0.6], "format": ".1~f", "title": "r [−0.46; 0.45]", "offset": 5, "titlePadding": 15}},
           "x2": {"field": "e"},
           "y": {"field": "n", "type": "quantitative", "scale": {"domain": [0, 73.8], "nice": false}, "axis": {"values": [0, 10, 20, 30, 40, 50, 60, 70], "title": "Frequency", "offset": 6}}
         }},
        {"transform": [{"filter": "datum.s > 0"}],
         "mark": {"type": "bar", "fill": "#ff4500", "stroke": "#111", "strokeWidth": 1},
         "encoding": {
           "x": {"field": "b", "bin": "binned", "type": "quantitative", "axis": {"orient": "top", "title": "Correlations with GCA for sugar content", "labels": false, "ticks": false, "domain": false, "titleFontSize": 6, "titleFontWeight": "bold", "titlePadding": 21}},
           "x2": {"field": "e"},
           "y": {"field": "s", "type": "quantitative", "title": "Frequency"}
         }}
      ]
    },
    {
      "width": 123, "height": 131,
      "title": {"text": "e", "dx": -44, "offset": 11},
      "data": {"name": "se"},
      "layer": [
        {"mark": {"type": "point", "shape": "circle", "filled": true, "size": 20, "stroke": "#222", "strokeWidth": 0.6, "opacity": 1, "zindex": 1},
         "encoding": {
           "x": {"field": "x", "type": "quantitative", "scale": {"domain": [-7, 7], "nice": false, "zero": false}, "axis": {"values": [-7, -3.5, 0, 3.5, 7], "tickCount": 5, "labelOverlap": false, "format": ".1f", "title": "Observed GCA for dry matter yield (t/ha)"}},
           "y": {"field": "y", "type": "quantitative", "scale": {"domain": [-7, 7], "nice": false, "zero": false}, "axis": {"values": [-7, -3.5, 0, 3.5, 7], "tickCount": 5, "labelOverlap": false, "format": ".1f", "title": "Predicted GCA for dry matter yield (t/ha)"}},
           "fill": {"field": "g", "type": "nominal", "scale": {"domain": ["n", "s"], "range": ["#d0d0d0", "#33aa33"]}, "legend": null}
         }},
        {"mark": {"type": "rule", "strokeDash": [1, 2], "color": "#444", "strokeWidth": 1},
         "encoding": {"y": {"datum": 0, "type": "quantitative"}}},
        {"mark": {"type": "rule", "strokeDash": [1, 2], "color": "#444", "strokeWidth": 1},
         "encoding": {"x": {"datum": 0, "type": "quantitative"}}},
        {"data": {"values": [{"t": "r = 0.47"}]},
         "mark": {"type": "text", "align": "right", "baseline": "bottom", "fontSize": 8, "color": "#222", "dx": -1, "dy": -3},
         "encoding": {"text": {"field": "t"}, "x": {"value": "width"}, "y": {"value": "height"}}}
      ]
    },
    {
      "width": 123, "height": 131,
      "title": {"text": "f", "dx": -46, "offset": 11},
      "data": {"name": "sf"},
      "layer": [
        {"mark": {"type": "point", "shape": "circle", "filled": true, "size": 20, "stroke": "#222", "strokeWidth": 0.6, "opacity": 1, "zindex": 1},
         "encoding": {
           "x": {"field": "x", "type": "quantitative", "scale": {"domain": [-10, 18], "nice": false, "zero": false}, "axis": {"values": [-10, -6, -2, 2, 6, 10, 14, 18], "tickCount": 8, "labelOverlap": false, "title": "Observed GCA for flowering time (d)"}},
           "y": {"field": "y", "type": "quantitative", "scale": {"domain": [-10, 18], "nice": false, "zero": false}, "axis": {"values": [-10, -6, -2, 2, 6, 10, 14, 18], "tickCount": 8, "labelOverlap": false, "title": "Predicted GCA for flowering time (d)"}},
           "fill": {"field": "g", "type": "nominal", "scale": {"domain": ["n", "s"], "range": ["#d0d0d0", "#33aa33"]}, "legend": null}
         }},
        {"mark": {"type": "rule", "strokeDash": [1, 2], "color": "#444", "strokeWidth": 1},
         "encoding": {"y": {"datum": 0, "type": "quantitative"}}},
        {"mark": {"type": "rule", "strokeDash": [1, 2], "color": "#444", "strokeWidth": 1},
         "encoding": {"x": {"datum": 0, "type": "quantitative"}}},
        {"data": {"values": [{"t": "r = 0.78"}]},
         "mark": {"type": "text", "align": "right", "baseline": "bottom", "fontSize": 8, "color": "#222", "dx": -7, "dy": -13},
         "encoding": {"text": {"field": "t"}, "x": {"value": "width"}, "y": {"value": "height"}}}
      ]
    },
    {
      "width": 123, "height": 131,
      "title": {"text": "g", "dx": -46, "offset": 11},
      "data": {"name": "sg"},
      "layer": [
        {"mark": {"type": "point", "shape": "circle", "filled": true, "size": 20, "stroke": "#222", "strokeWidth": 0.6, "opacity": 1, "zindex": 1},
         "encoding": {
           "x": {"field": "x", "type": "quantitative", "scale": {"domain": [-1, 1], "nice": false, "zero": false}, "axis": {"values": [-1, -0.6, -0.2, 0.2, 0.6, 1], "tickCount": 6, "labelOverlap": false, "format": ".1f", "title": "Observed GCA for fat contet (%)"}},
           "y": {"field": "y", "type": "quantitative", "scale": {"domain": [-1, 1], "nice": false, "zero": false}, "axis": {"values": [-1, -0.6, -0.2, 0.2, 0.6, 1], "tickCount": 6, "labelOverlap": false, "format": ".1f", "title": "Predicted GCA for fat content (%)"}},
           "fill": {"field": "g", "type": "nominal", "scale": {"domain": ["n", "s"], "range": ["#d0d0d0", "#33aa33"]}, "legend": null}
         }},
        {"mark": {"type": "rule", "strokeDash": [1, 2], "color": "#444", "strokeWidth": 1},
         "encoding": {"y": {"datum": 0, "type": "quantitative"}}},
        {"mark": {"type": "rule", "strokeDash": [1, 2], "color": "#444", "strokeWidth": 1},
         "encoding": {"x": {"datum": 0, "type": "quantitative"}}},
        {"data": {"values": [{"t": "r = 0.64"}]},
         "mark": {"type": "text", "align": "right", "baseline": "bottom", "fontSize": 8, "color": "#222", "dx": -6, "dy": -13},
         "encoding": {"text": {"field": "t"}, "x": {"value": "width"}, "y": {"value": "height"}}}
      ]
    },
    {
      "width": 123, "height": 131,
      "title": {"text": "h", "dx": -47, "offset": 11},
      "data": {"name": "sh"},
      "layer": [
        {"mark": {"type": "point", "shape": "circle", "filled": true, "size": 20, "stroke": "#222", "strokeWidth": 0.6, "opacity": 1, "zindex": 1},
         "encoding": {
           "x": {"field": "x", "type": "quantitative", "scale": {"domain": [-4, 8], "nice": false, "zero": false}, "axis": {"values": [-4, -2, 0, 2, 4, 6, 8], "tickCount": 7, "labelOverlap": false, "title": "Observed GCA for sugar contet (%)"}},
           "y": {"field": "y", "type": "quantitative", "scale": {"domain": [-4, 8], "nice": false, "zero": false}, "axis": {"values": [-4, -2, 0, 2, 4, 6, 8], "tickCount": 7, "labelOverlap": false, "title": "Predicted GCA for sugar content (%)"}},
           "fill": {"field": "g", "type": "nominal", "scale": {"domain": ["n", "s"], "range": ["#d0d0d0", "#33aa33"]}, "legend": null}
         }},
        {"mark": {"type": "rule", "strokeDash": [1, 2], "color": "#444", "strokeWidth": 1},
         "encoding": {"y": {"datum": 0, "type": "quantitative"}}},
        {"mark": {"type": "rule", "strokeDash": [1, 2], "color": "#444", "strokeWidth": 1},
         "encoding": {"x": {"datum": 0, "type": "quantitative"}}},
        {"data": {"values": [{"t": "r = 0.62"}]},
         "mark": {"type": "text", "align": "right", "baseline": "bottom", "fontSize": 8, "color": "#222", "dx": -7, "dy": -13},
         "encoding": {"text": {"field": "t"}, "x": {"value": "width"}, "y": {"value": "height"}}}
      ]
    }
  ]
}
